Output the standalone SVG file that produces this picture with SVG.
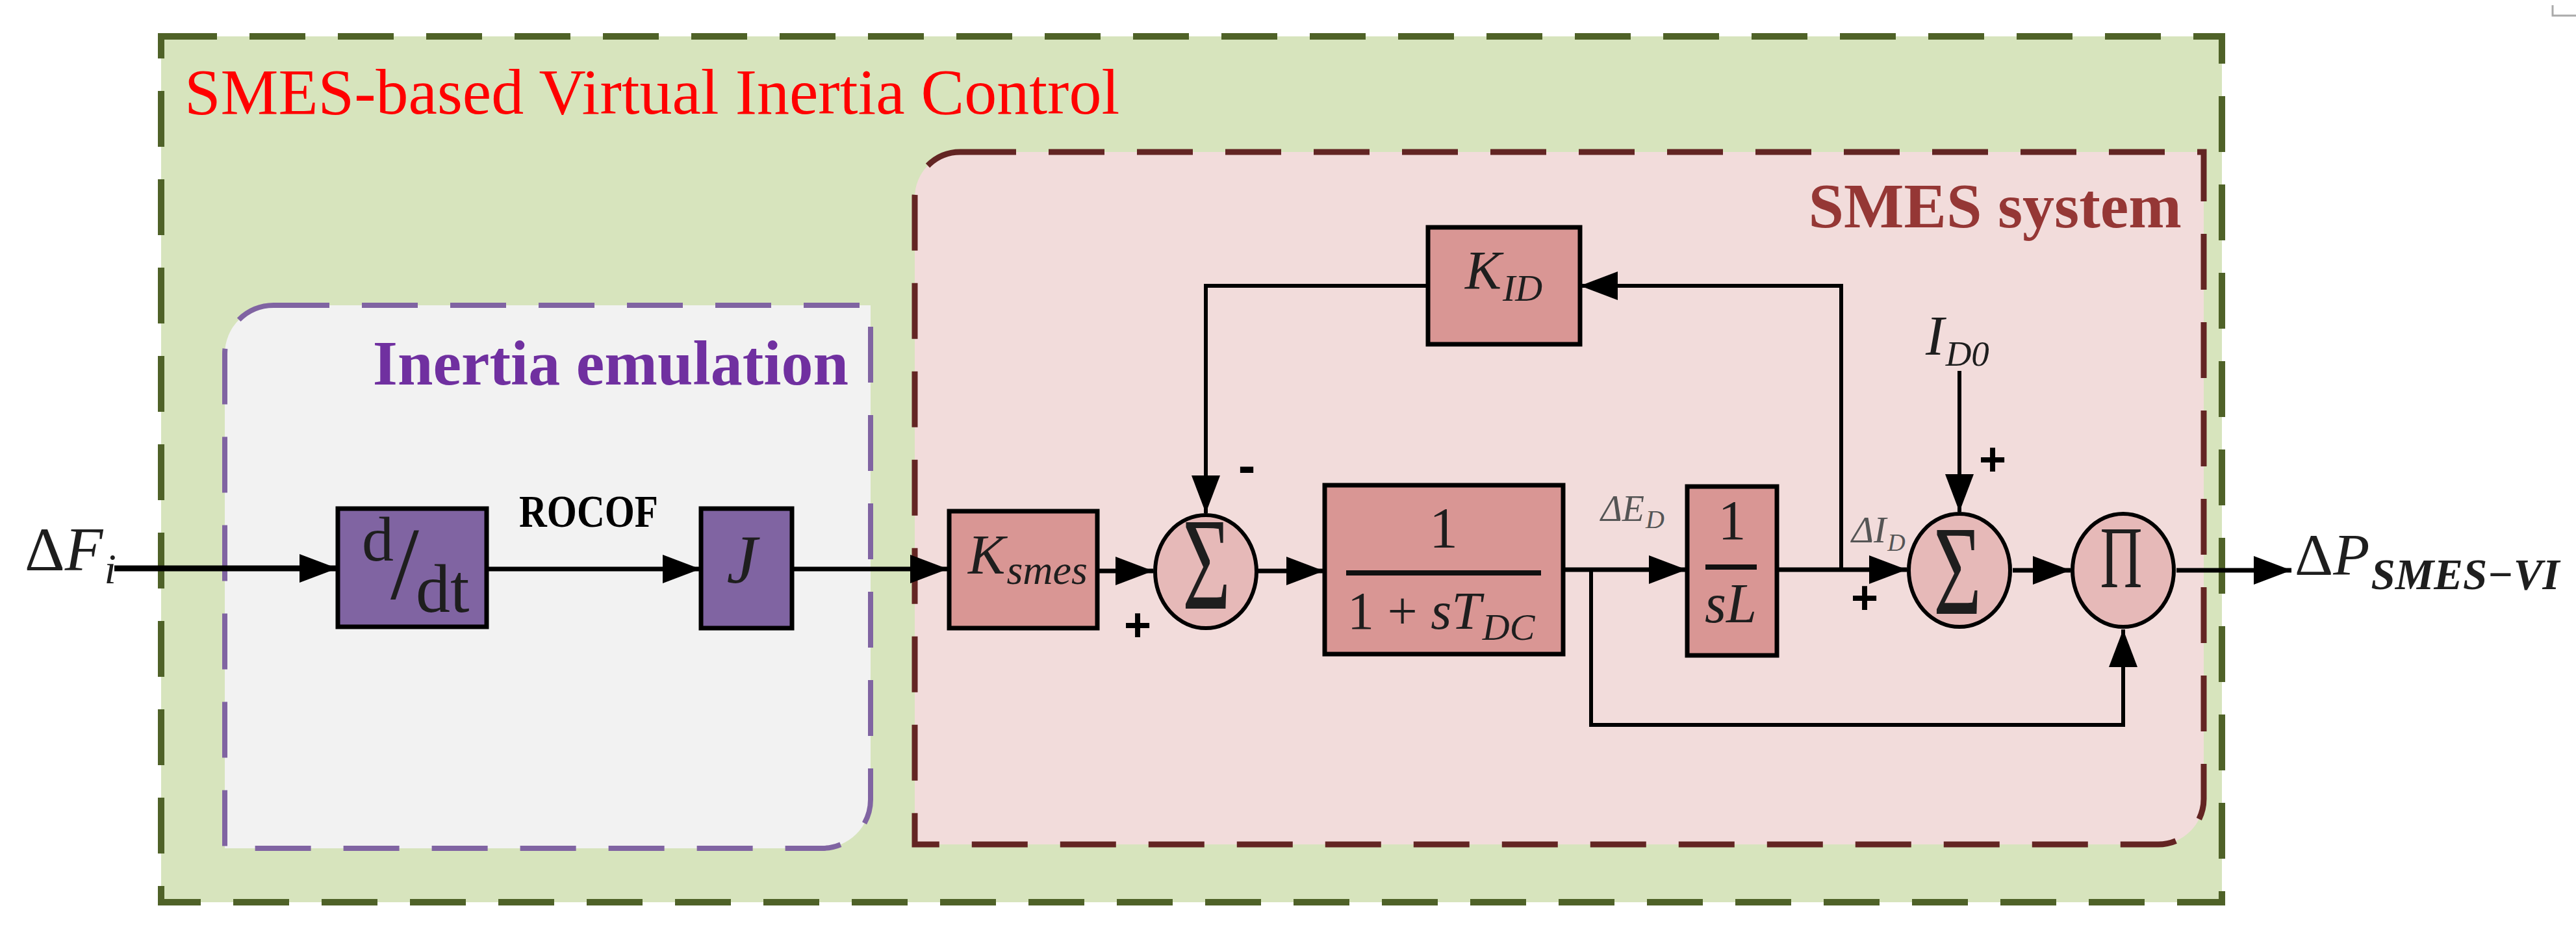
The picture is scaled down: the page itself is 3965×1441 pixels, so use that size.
<svg xmlns="http://www.w3.org/2000/svg" width="3965" height="1441" viewBox="0 0 3965 1441">
<style>
.serif{font-family:"Liberation Serif","Times New Roman",serif}
.blk{stroke:#000;stroke-width:7}
.pblk{fill:#8064a2}
.rblk{fill:#d99694}
.sum{fill:#e6b9b8;stroke:#000;stroke-width:6}
.wire{fill:none;stroke:#000;stroke-width:6}
.main{stroke-width:7}
.frac{stroke:#111;stroke-width:8}
.math{font-family:"Liberation Serif","Times New Roman",serif;fill:#1e1e1e}
.it{font-style:italic}
.sign{font-family:"Liberation Sans",Arial,sans-serif;font-weight:bold;fill:#000}
.lbl{font-family:"Liberation Serif","Times New Roman",serif;font-style:italic;fill:#555}
</style>
<defs>
<marker id="arr" markerUnits="userSpaceOnUse" markerWidth="58" markerHeight="44" refX="58" refY="22" orient="auto">
<path d="M0,0 L58,22 L0,44 Z" fill="#000"/>
</marker>
</defs>
<rect width="3965" height="1441" fill="#fff"/>
<path d="M3929,8 V24 H3965" fill="none" stroke="#aaa" stroke-width="3"/>

<g id="outer-frame">
<rect x="248" y="56" width="3172" height="1333" fill="#d7e4bd" stroke="#4f6228" stroke-width="10" stroke-dasharray="86 50"/>
<text class="serif" x="284" y="175" font-size="100" fill="#ff0000">SMES-based Virtual Inertia Control</text>
</g>

<g id="smes-system">
<path d="M1478,234 H3392 V1230 A70,70 0 0 1 3322,1300 H1408 V304 A70,70 0 0 1 1478,234 Z" fill="#f2dcdb" stroke="#632523" stroke-width="9" stroke-dasharray="86 50"/>
<text class="serif" x="3358" y="350" font-size="98" font-weight="bold" fill="#953735" text-anchor="end">SMES system</text>
</g>

<g id="inertia-emulation">
<path d="M421,470 H1340 V1231 A75,75 0 0 1 1265,1306 H346 V545 A75,75 0 0 1 421,470 Z" fill="#f2f2f2" stroke="#8064a2" stroke-width="8" stroke-dasharray="86 50"/>
<text class="serif" x="1306" y="592" font-size="98" font-weight="bold" fill="#7030a0" text-anchor="end">Inertia emulation</text>
</g>

<g id="connectors">
<path class="wire" style="stroke-width:9" d="M176,875 H519" marker-end="url(#arr)"/>
<path class="wire main" d="M749,876 H1078" marker-end="url(#arr)"/>
<path class="wire main" d="M1217,876 H1459" marker-end="url(#arr)"/>
<path class="wire main" d="M1689,879 H1775" marker-end="url(#arr)"/>
<path class="wire main" d="M1936,879 H2038" marker-end="url(#arr)"/>
<path class="wire main" d="M2406,877 H2596" marker-end="url(#arr)"/>
<path class="wire" d="M2449,877 V1116 H3268 V969" marker-end="url(#arr)"/>
<path class="wire main" d="M2735,877 H2935" marker-end="url(#arr)"/>
<path class="wire" d="M2834,877 V440 H2432" marker-end="url(#arr)"/>
<path class="wire" d="M2198,440 H1856 V790" marker-end="url(#arr)"/>
<path class="wire" d="M3016,571 V788" marker-end="url(#arr)"/>
<path class="wire main" d="M3098,878 H3187" marker-end="url(#arr)"/>
<path class="wire main" d="M3350,878 H3527" marker-end="url(#arr)"/>
</g>

<g id="input-label">
<text class="math" x="38" y="878" font-size="96" fill="#111">Δ<tspan class="it">F</tspan><tspan class="it" font-size="66" dx="2" dy="20">i</tspan></text>
</g>

<g id="rocof-label">
<text class="serif" x="906" y="811" font-size="70" font-weight="bold" text-anchor="middle" textLength="214" lengthAdjust="spacingAndGlyphs">ROCOF</text>
</g>

<g id="block-ddt">
<rect class="blk pblk" x="520" y="783" width="229" height="182"/>
<text class="math" fill="#1a1030"><tspan x="557" y="863" font-size="98">d</tspan><tspan x="601" y="921" font-size="158">/</tspan><tspan x="640" y="942" font-size="106">dt</tspan></text>
</g>

<g id="block-J">
<rect class="blk pblk" x="1079" y="783" width="140" height="184"/>
<text class="math it" x="1142" y="897" font-size="106" fill="#000" text-anchor="middle">J</text>
</g>

<g id="block-Ksmes">
<rect class="blk rblk" x="1461" y="787" width="228" height="180"/>
<text class="math" x="1490" y="883" font-size="86"><tspan class="it">K</tspan><tspan class="it" font-size="64" dx="2" dy="16">smes</tspan></text>
</g>

<g id="sum1">
<ellipse class="sum" cx="1856" cy="880" rx="78" ry="87"/>
<text class="math" x="1857" y="937" font-size="204" text-anchor="middle" textLength="74" lengthAdjust="spacingAndGlyphs">Σ</text>
<text class="sign" x="1751" y="987" font-size="72" text-anchor="middle">+</text>
<text class="sign" x="1919" y="744" font-size="80" text-anchor="middle">-</text>
</g>

<g id="block-KID">
<rect class="blk rblk" x="2198" y="350" width="234" height="180"/>
<text class="math" x="2255" y="445" font-size="84"><tspan class="it">K</tspan><tspan class="it" font-size="58" dx="2" dy="18">ID</tspan></text>
</g>

<g id="block-TDC">
<rect class="blk rblk" x="2039" y="747" width="367" height="260"/>
<text class="math" x="2222" y="842" font-size="88" text-anchor="middle">1</text>
<line class="frac" x1="2072" y1="882" x2="2372" y2="882"/>
<text class="math" x="2074" y="968" font-size="82">1 + <tspan class="it">sT</tspan><tspan class="it" font-size="58" dx="2" dy="17">DC</tspan></text>
</g>

<g id="label-dED">
<text class="lbl" x="2464" y="802" font-size="56">ΔE<tspan font-size="40" dx="2" dy="11">D</tspan></text>
</g>

<g id="block-sL">
<rect class="blk rblk" x="2597" y="749" width="138" height="260"/>
<text class="math" x="2666" y="830" font-size="86" text-anchor="middle">1</text>
<line class="frac" x1="2625" y1="873" x2="2704" y2="873"/>
<text class="math it" x="2624" y="958" font-size="86" textLength="80" lengthAdjust="spacingAndGlyphs">sL</text>
</g>

<g id="label-dID">
<text class="lbl" x="2850" y="835" font-size="58">ΔI<tspan font-size="38" dx="2" dy="13">D</tspan></text>
<text class="sign" x="2870" y="945" font-size="72" text-anchor="middle">+</text>
</g>

<g id="input-ID0">
<text class="math it" x="2964" y="546" font-size="86" fill="#3a3a3a">I<tspan font-size="55" dx="2" dy="17">D0</tspan></text>
<text class="sign" x="3067" y="732" font-size="72" text-anchor="middle">+</text>
</g>

<g id="sum2">
<ellipse class="sum" cx="3016" cy="878" rx="78" ry="87"/>
<text class="math" x="3013" y="945" font-size="198" text-anchor="middle" textLength="74" lengthAdjust="spacingAndGlyphs">Σ</text>
</g>

<g id="product">
<ellipse class="sum" cx="3268" cy="878" rx="78" ry="87"/>
<text class="math" x="3265" y="904" font-size="136" text-anchor="middle" textLength="65" lengthAdjust="spacingAndGlyphs">Π</text>
</g>

<g id="output-label">
<text class="math" x="3532" y="885" font-size="92" fill="#111">Δ<tspan class="it">P</tspan><tspan class="it" font-size="67" font-weight="bold" dx="2" dy="22">SMES−VI</tspan></text>
</g>
</svg>
